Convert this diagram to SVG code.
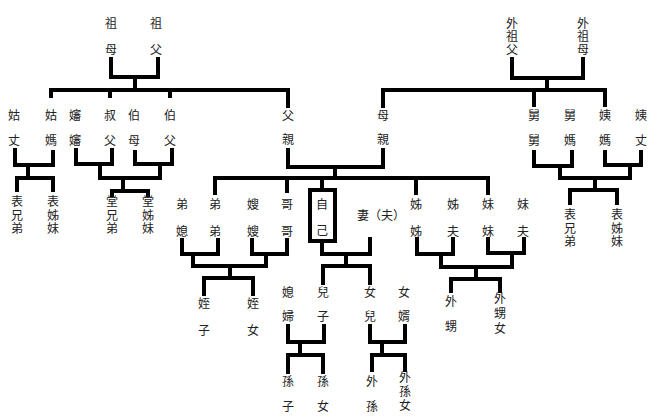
<svg xmlns="http://www.w3.org/2000/svg" width="670" height="417" viewBox="0 0 670 417">
<style>
text{font-family:"Noto Sans CJK TC","Noto Sans CJK SC",sans-serif;font-size:12px;fill:#222;text-anchor:middle;dominant-baseline:central}
text.v{writing-mode:vertical-rl;text-orientation:upright;letter-spacing:1.5px}
.c path,.c rect{fill:none;stroke:#000;stroke-width:4;stroke-linejoin:miter}
</style>
<rect width="670" height="417" fill="#fff"/>
<g class="c" id="connectors">
<path d="M111,57V77H158V57M135,77V90"/>
<path d="M51,98V90H288V108M110,90V98M170,90V98"/>
<path d="M512,57V78H583V57M547,78V90"/>
<path d="M383,108V90H605V107M534,90V107"/>
<path d="M288,148V167H383V148M335,167V178"/>
<path d="M215,195V178H488V195M287,178V193M416,178V195M322,178V190"/>
<path d="M15,148V165H53V150M28,165V178M17,192V178H53V192"/>
<path d="M76,148V164H112V148M135,150V164H172V148M100,164V178H160V164M123,178V191M112,197V191H148V197"/>
<path d="M182,238V254H218V238M252,238V254H287V238M193,254V266H266V254M230,266V278M204,296V278H253V296"/>
<path d="M322,241V254H370V237M346,254V266M323,285V266H370V285"/>
<path d="M288,324V342H324V324M300,342V355M288,374V355H323V374"/>
<path d="M370,324V342H405V324M382,342V355M372,372V355H405V372"/>
<path d="M417,237V254H453V237M488,237V253H524V237M441,254V267H512V253M476,267V279M451,293V279H500V293"/>
<path d="M534,150V166H572V150M605,150V165H641V150M560,166V178H630V165M595,178V190M570,205V190H617V205"/>
</g>
<g id="n_grandma"><text x="111" y="22">祖</text><text x="111" y="48">母</text></g>
<g id="n_grandpa"><text x="156" y="22">祖</text><text x="156" y="48">父</text></g>
<g id="n_wgf"><text class="v" x="512" y="37" style="letter-spacing:1px">外祖父</text></g>
<g id="n_wgm"><text class="v" x="583" y="37" style="letter-spacing:1px">外祖母</text></g>
<g id="n_guzhang"><text x="14" y="114">姑</text><text x="14" y="139">丈</text></g>
<g id="n_gumama"><text x="51" y="114">姑</text><text x="51" y="139">媽</text></g>
<g id="n_shenshen"><text x="75" y="114">嬸</text><text x="75" y="139">嬸</text></g>
<g id="n_shufu"><text x="110" y="114">叔</text><text x="110" y="139">父</text></g>
<g id="n_bomu"><text x="134" y="114">伯</text><text x="134" y="139">母</text></g>
<g id="n_bofu"><text x="170" y="114">伯</text><text x="170" y="139">父</text></g>
<g id="n_father"><text x="288" y="114">父</text><text x="288" y="138">親</text></g>
<g id="n_mother"><text x="383" y="114">母</text><text x="383" y="138">親</text></g>
<g id="n_jiu"><text x="534" y="114">舅</text><text x="534" y="139">舅</text></g>
<g id="n_jiuma"><text x="570" y="114">舅</text><text x="570" y="139">媽</text></g>
<g id="n_yima"><text x="605" y="114">姨</text><text x="605" y="139">媽</text></g>
<g id="n_yizhang"><text x="641" y="114">姨</text><text x="641" y="139">丈</text></g>
<g id="n_biao_l1"><text class="v" x="17" y="216">表兄弟</text></g>
<g id="n_biao_l2"><text class="v" x="53" y="216">表姊妹</text></g>
<g id="n_tang1"><text class="v" x="112" y="216">堂兄弟</text></g>
<g id="n_tang2"><text class="v" x="148" y="216">堂姊妹</text></g>
<g id="n_biao_r1"><text class="v" x="570" y="229">表兄弟</text></g>
<g id="n_biao_r2"><text class="v" x="617" y="229">表姊妹</text></g>
<g id="n_dixi"><text x="182" y="203">弟</text><text x="182" y="230">媳</text></g>
<g id="n_didi"><text x="215" y="203">弟</text><text x="215" y="230">弟</text></g>
<g id="n_sao"><text x="253" y="203">嫂</text><text x="253" y="230">嫂</text></g>
<g id="n_gege"><text x="287" y="203">哥</text><text x="287" y="230">哥</text></g>
<g id="n_self"><rect x="310" y="190" width="25" height="51" fill="none" stroke="#000" stroke-width="4"/><text x="322" y="203">自</text><text x="322" y="229">己</text></g>
<g id="n_spouse"><text x="381" y="214">妻（夫）</text></g>
<g id="n_jiejie"><text x="416" y="203">姊</text><text x="416" y="230">姊</text></g>
<g id="n_jiefu"><text x="453" y="203">姊</text><text x="453" y="230">夫</text></g>
<g id="n_meimei"><text x="488" y="203">妹</text><text x="488" y="230">妹</text></g>
<g id="n_meifu"><text x="523" y="203">妹</text><text x="523" y="230">夫</text></g>
<g id="n_zhizi"><text x="204" y="302">姪</text><text x="204" y="329">子</text></g>
<g id="n_zhinv"><text x="253" y="302">姪</text><text x="253" y="329">女</text></g>
<g id="n_xifu"><text x="288" y="291">媳</text><text x="288" y="315">婦</text></g>
<g id="n_erzi"><text x="323" y="291">兒</text><text x="323" y="315">子</text></g>
<g id="n_nver"><text x="370" y="291">女</text><text x="370" y="315">兒</text></g>
<g id="n_nvxu"><text x="404" y="291">女</text><text x="404" y="315">婿</text></g>
<g id="n_waisheng"><text x="451" y="300">外</text><text x="451" y="325">甥</text></g>
<g id="n_waishengnv"><text class="v" x="500" y="315" style="letter-spacing:3px">外甥女</text></g>
<g id="n_sunzi"><text x="288" y="380">孫</text><text x="288" y="405">子</text></g>
<g id="n_sunnv"><text x="323" y="380">孫</text><text x="323" y="405">女</text></g>
<g id="n_waisun"><text x="372" y="380">外</text><text x="372" y="405">孫</text></g>
<g id="n_waisunnv"><text class="v" x="405" y="392" style="letter-spacing:2px">外孫女</text></g>
</svg>
